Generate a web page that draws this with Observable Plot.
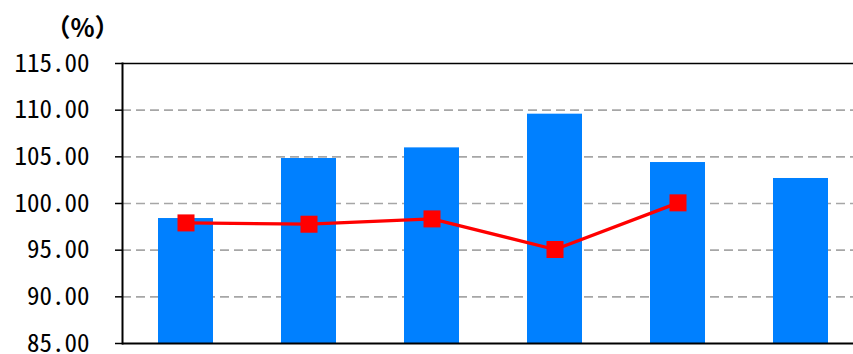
<!DOCTYPE html>
<html><head><meta charset="utf-8">
<script src="https://cdn.jsdelivr.net/npm/d3@7"></script>
<script src="https://cdn.jsdelivr.net/npm/@observablehq/plot@0.6"></script>
<style>
html,body{margin:0;padding:0;background:#fff;overflow:hidden;width:853px;height:354px;}
svg{max-width:none !important;height:354px !important;}
svg [aria-label="y-axis tick label"] text, svg [aria-label="y-axis tick label"]{font-feature-settings:"hwid";}
</style></head>
<body><div id="chart"></div>
<script>
const categories = ["1", "2", "3", "4", "5", "6"];
const barValues = [98.39, 104.82, 105.96, 109.57, 104.39, 102.68];
const lineValues = [97.92, 97.78, 98.35, 95.07, 100.07];
const yTicks = [85, 90, 95, 100, 105, 110, 115];
const gridTicks = [90, 95, 100, 105, 110];
const unitLabel = "（%）";

const bars = categories.map((c, i) => ({cat: c, value: barValues[i]}));
const pts = lineValues.map((v, i) => ({cat: categories[i], value: v}));

const chart = Plot.plot({
  width: 864,
  height: 354,
  marginLeft: 122,
  marginRight: 0,
  marginTop: 63,
  marginBottom: 11,
  style: {fontFamily: "'Noto Sans CJK JP', sans-serif", fontSize: "25px", color: "#000", background: "#fff"},
  x: {domain: categories, paddingInner: 0.55, paddingOuter: 0.275, axis: null},
  y: {domain: [85, 115], ticks: yTicks, tickFormat: d3.format(".2f"), label: null, tickSize: 7, tickPadding: 26},
  marks: [
    Plot.ruleY(gridTicks, {stroke: "#a6a6a6", strokeWidth: 1.7, strokeDasharray: "9,5"}),
    Plot.barY(bars, {x: "cat", y1: 85, y2: "value", fill: "#0080ff"}),
    Plot.ruleY([115], {stroke: "#000", strokeWidth: 1.5}),
    Plot.ruleY([85], {stroke: "#000", strokeWidth: 2}),
    Plot.frame({anchor: "left", stroke: "#000", strokeWidth: 2}),
    Plot.axisY({ticks: yTicks, tickFormat: d3.format(".2f"), tickSize: 7, tickPadding: 26, stroke: "#000", strokeWidth: 1.5, fontSize: 25}),
    Plot.line(pts, {x: "cat", y: "value", stroke: "#ff0000", strokeWidth: 3.3}),
    Plot.dot(pts, {x: "cat", y: "value", symbol: "square", r: 9.6, fill: "#ff0000", stroke: "none"}),
    Plot.text([unitLabel], {frameAnchor: "top-left", textAnchor: "middle", lineAnchor: "middle", dx: -40, dy: -35, text: d => d, fontSize: 25, fontWeight: "bold"})
  ]
});
document.getElementById("chart").appendChild(chart);
</script></body></html>
